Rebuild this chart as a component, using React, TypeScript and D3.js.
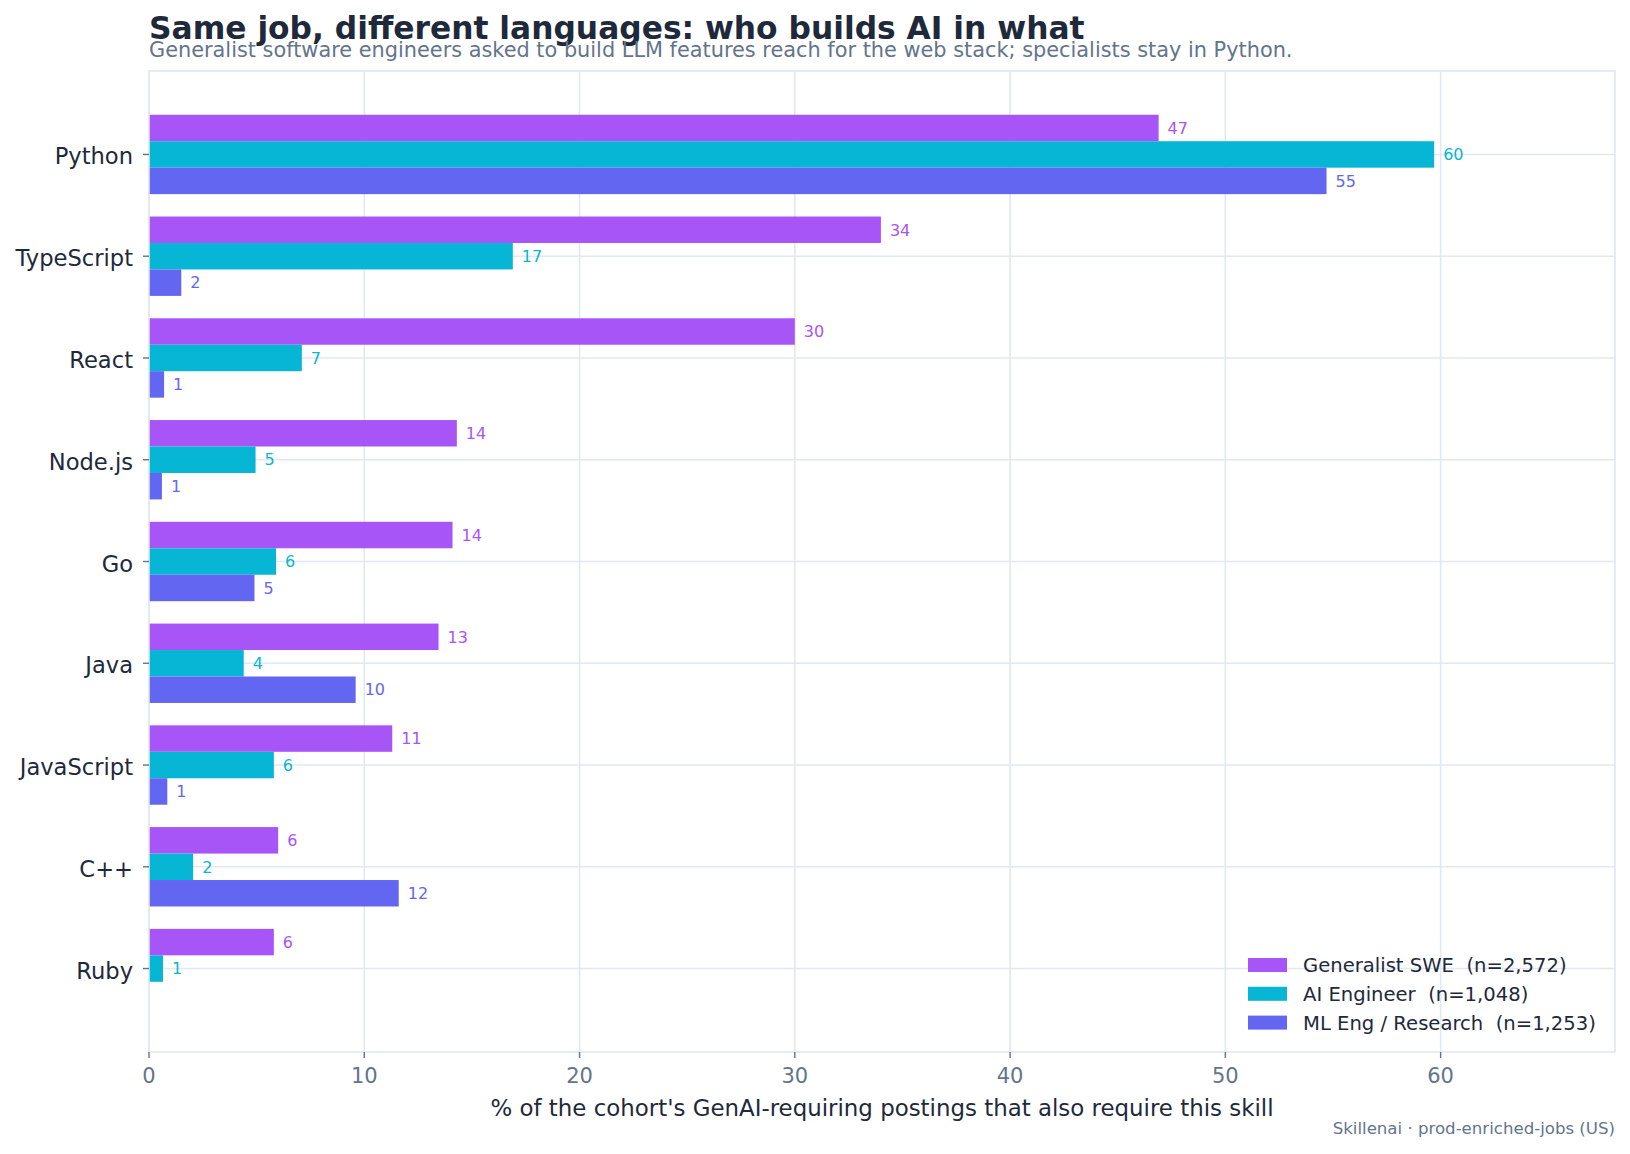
import React from 'react'
import * as d3 from 'd3'

// skills on the y axis, top to bottom
const languages = ['Python', 'TypeScript', 'React', 'Node.js', 'Go', 'Java', 'JavaScript', 'C++', 'Ruby']

// % of each cohort's GenAI postings that also ask for the skill
const generalistSwe = [46.9, 34.0, 30.0, 14.3, 14.1, 13.45, 11.3, 6.0, 5.8]
const aiEngineer = [59.7, 16.9, 7.1, 4.95, 5.9, 4.4, 5.8, 2.05, 0.65]
const mlResearch = [54.7, 1.5, 0.7, 0.6, 4.9, 9.6, 0.85, 11.6, 0]

const seriesNames = ['Generalist SWE  (n=2,572)', 'AI Engineer  (n=1,048)', 'ML Eng / Research  (n=1,253)']
const seriesColors = ['#a855f7', '#06b6d4', '#6366f1']
const xTicks = [0, 10, 20, 30, 40, 50, 60]

const FONT = 'DejaVu Sans, sans-serif'

const App = () => {
    const width = 1630
    const height = 1154
    const left = 149
    const right = 1615
    const top = 71
    const bottom = 1052

    const series = [generalistSwe, aiEngineer, mlResearch]

    const x = d3.scaleLinear().domain([0, 68.1]).range([left, right])
    const y = d3.scaleBand<string>()
        .domain(languages)
        .range([top, bottom])
        .paddingInner(0.22)
        .paddingOuter(0.43)
    const inner = d3.scaleBand<number>()
        .domain([0, 1, 2])
        .range([0, y.bandwidth()])

    const gridColor = '#e2e8f0'
    const dark = '#1e293b'
    const slate = '#64748b'

    return (
        <div style={{ position: 'absolute', left: 0, top: 0 }}>
            <svg width={width} height={height} style={{ display: 'block', background: '#ffffff' }} fontFamily={FONT}>
                {/* grid */}
                {xTicks.map(t => (
                    <line key={`gx-${t}`} x1={x(t)} x2={x(t)} y1={top} y2={bottom} stroke={gridColor} strokeWidth={1.6} />
                ))}
                {languages.map(l => {
                    const cy = (y(l) ?? 0) + y.bandwidth() / 2
                    return <line key={`gy-${l}`} x1={left} x2={right} y1={cy} y2={cy} stroke={gridColor} strokeWidth={1.6} />
                })}

                {/* bars */}
                {series.map((vals, si) => (
                    <g key={`s-${si}`}>
                        {vals.map((v, i) => {
                            if (v <= 0) return null
                            const by = (y(languages[i]) ?? 0) + (inner(si) ?? 0)
                            return <rect key={`b-${si}-${i}`} x={x(0)} y={by} width={x(v) - x(0)} height={inner.bandwidth()} fill={seriesColors[si]} />
                        })}
                    </g>
                ))}

                {/* value labels */}
                {series.map((vals, si) => (
                    <g key={`l-${si}`}>
                        {vals.map((v, i) => {
                            if (v <= 0) return null
                            const cy = (y(languages[i]) ?? 0) + (inner(si) ?? 0) + inner.bandwidth() / 2
                            return (
                                <text key={`t-${si}-${i}`} x={x(v) + 9} y={cy} dy="0.36em" fontSize={16} fill={seriesColors[si]}>
                                    {Math.round(v)}
                                </text>
                            )
                        })}
                    </g>
                ))}

                {/* frame */}
                <rect x={left} y={top} width={right - left} height={bottom - top} fill="none" stroke={gridColor} strokeWidth={1.6} />

                {/* y axis */}
                {languages.map(l => {
                    const cy = (y(l) ?? 0) + y.bandwidth() / 2
                    return (
                        <g key={`ya-${l}`}>
                            <line x1={left - 6} x2={left} y1={cy} y2={cy} stroke={slate} strokeWidth={1.4} />
                            <text x={left - 16} y={cy + 10} textAnchor="end" fontSize={22.6} fill={dark}>{l}</text>
                        </g>
                    )
                })}

                {/* x axis */}
                {xTicks.map(t => (
                    <g key={`xa-${t}`}>
                        <line x1={x(t)} x2={x(t)} y1={bottom} y2={bottom + 6} stroke={slate} strokeWidth={1.4} />
                        <text x={x(t)} y={bottom + 31} textAnchor="middle" fontSize={21} fill={slate}>{t}</text>
                    </g>
                ))}
                <text x={(left + right) / 2} y={1116} textAnchor="middle" fontSize={22.9} fill={dark}>
                    % of the cohort's GenAI-requiring postings that also require this skill
                </text>

                {/* legend */}
                {seriesNames.map((name, i) => {
                    const cy = 965 + i * 28.8
                    return (
                        <g key={`lg-${i}`}>
                            <rect x={1248} y={cy - 7} width={39} height={14} fill={seriesColors[i]} />
                            <text x={1303} y={cy} dy="0.36em" fontSize={19.6} fill={dark} xmlSpace="preserve" style={{ whiteSpace: 'pre' }}>{name}</text>
                        </g>
                    )
                })}

                {/* titles */}
                <text x={left} y={39} fontSize={31.3} fontWeight="bold" fill={dark}>
                    Same job, different languages: who builds AI in what
                </text>
                <text x={left} y={57} fontSize={20.85} fill={slate}>
                    Generalist software engineers asked to build LLM features reach for the web stack; specialists stay in Python.
                </text>
                <text x={right} y={1134} textAnchor="end" fontSize={16.6} fill={slate}>
                    Skillenai · prod-enriched-jobs (US)
                </text>
            </svg>
        </div>
    )
}

export default App
